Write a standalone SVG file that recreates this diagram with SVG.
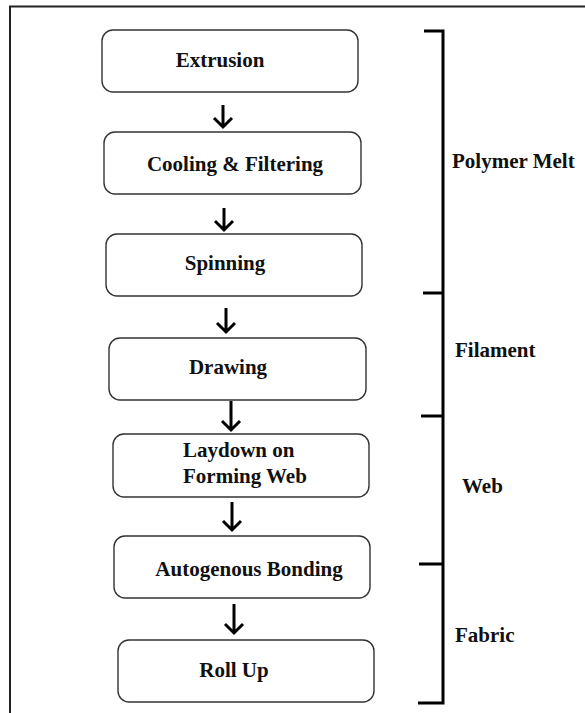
<svg xmlns="http://www.w3.org/2000/svg" width="585" height="713" viewBox="0 0 585 713">
  <style>
    .box { fill: #ffffff; stroke: #333333; stroke-width: 1.4; }
    .lbl { font-family: "Liberation Serif", "Times New Roman", serif; font-weight: bold; font-size: 21px; fill: #111111; }
    .arr { stroke: #000000; stroke-width: 3; fill: none; }
    .brk { stroke: #000000; stroke-width: 3; fill: none; }
  </style>
  <rect x="0" y="0" width="585" height="713" fill="#ffffff"/>
  <path d="M10 713 L10 6.5 L585 6.5" fill="none" stroke="#222222" stroke-width="2"/>

  <g id="n1">
    <rect class="box" x="102" y="30" width="256" height="62" rx="11"/>
    <text class="lbl" x="220" y="67" text-anchor="middle">Extrusion</text>
  </g>
  <g id="n2">
    <rect class="box" x="104" y="132" width="257" height="62" rx="11"/>
    <text class="lbl" x="235" y="171" text-anchor="middle">Cooling &amp; Filtering</text>
  </g>
  <g id="n3">
    <rect class="box" x="106" y="234" width="256" height="62" rx="11"/>
    <text class="lbl" x="225" y="270" text-anchor="middle">Spinning</text>
  </g>
  <g id="n4">
    <rect class="box" x="109" y="338" width="257" height="62" rx="11"/>
    <text class="lbl" x="228" y="374" text-anchor="middle">Drawing</text>
  </g>
  <g id="n5">
    <rect class="box" x="113" y="434" width="256" height="63" rx="11"/>
    <text class="lbl" x="183" y="457">Laydown on</text>
    <text class="lbl" x="183" y="483">Forming Web</text>
  </g>
  <g id="n6">
    <rect class="box" x="114" y="536" width="256" height="62" rx="11"/>
    <text class="lbl" x="249" y="576" text-anchor="middle">Autogenous Bonding</text>
  </g>
  <g id="n7">
    <rect class="box" x="118" y="640" width="256" height="62" rx="11"/>
    <text class="lbl" x="234" y="677" text-anchor="middle">Roll Up</text>
  </g>

  <g id="connectors">
    <path class="arr" d="M223 105 L223 127 M214 118 L223 127 L232 118"/>
    <path class="arr" d="M224 208 L224 230 M215 221 L224 230 L233 221"/>
    <path class="arr" d="M226 308 L226 332 M217 323 L226 332 L235 323"/>
    <path class="arr" d="M231 401 L231 430 M222 421 L231 430 L240 421"/>
    <path class="arr" d="M232 502 L232 530 M223 521 L232 530 L241 521"/>
    <path class="arr" d="M234 604 L234 633 M225 624 L234 633 L243 624"/>
  </g>

  <g id="bracket">
    <path class="brk" d="M424 31 L443 31 L443 703 L418 703"/>
    <path class="brk" d="M423 293 L443 293"/>
    <path class="brk" d="M421 416 L443 416"/>
    <path class="brk" d="M419 564 L443 564"/>
  </g>
  <g id="labels">
    <text class="lbl" x="452" y="168">Polymer Melt</text>
    <text class="lbl" x="455" y="357">Filament</text>
    <text class="lbl" x="462" y="493">Web</text>
    <text class="lbl" x="455" y="642">Fabric</text>
  </g>
</svg>
